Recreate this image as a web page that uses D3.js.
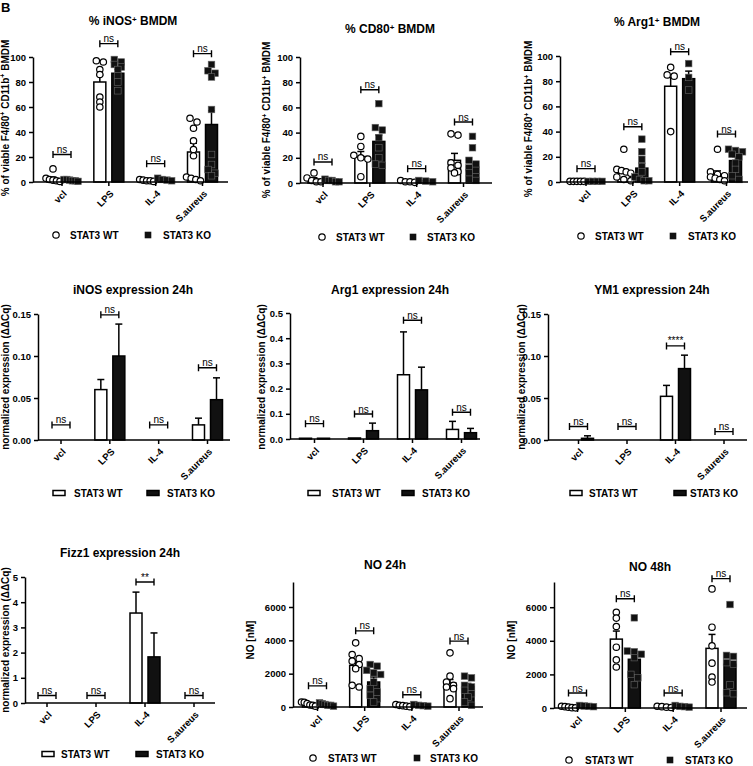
<!DOCTYPE html>
<html><head><meta charset="utf-8">
<script src="https://cdn.jsdelivr.net/npm/d3@7"></script>
<style>body{margin:0;background:#fff} svg text{font-family:"Liberation Sans",Arial,sans-serif;}</style>
</head><body><svg id="c" width="753" height="766"></svg>
<script>
const categories = ["vcl","LPS","IL-4","S.aureus"];
const seriesNames = ["STAT3 WT","STAT3 KO"];
const nsLabels = ["ns","ns","ns","ns"];
const ym1Labels = ["ns","ns","****","ns"];
const fizzLabels = ["ns","ns","**","ns"];

const pctTicks = [0,20,40,60,80,100];
const expr015Ticks = [0,0.05,0.10,0.15];
const expr05Ticks = [0,0.1,0.2,0.3,0.4,0.5];
const fizzTicks = [0,1,2,3,4,5];
const noTicks = [0,2000,4000,6000];

// % iNOS+ BMDM
const inosFacsWTMean = [2.5, 80, 1, 24];
const inosFacsWTSem = [1.5, 5.5, 0.3, 7];
const inosFacsKOMean = [1.5, 87, 2, 46];
const inosFacsKOSem = [0.4, 3, 0.5, 11];
const inosFacsWTPoints = [[10.5,3,2,1.5,1,0.5],[97,96,90,86,68,64,60],[2,1.5,1,0.5,1],[51,48,43,33,26,21,4,3,2,1]];
const inosFacsKOPoints = [[2,1.5,1,1,0.5,2],[98,96,94,92,90,85,80,73],[1,3,2,1.5],[94,89,87,84,58,22,14,10,7,5]];
const inosFacsBrackets = [22, 110.7, 14.7, 102.7];

// % CD80+ BMDM
const cd80WTMean = [3, 21, 1, 18];
const cd80WTSem = [1.2, 4, 0.3, 5.5];
const cd80KOMean = [2, 33, 1.5, 13];
const cd80KOSem = [0.5, 5, 0.3, 3.5];
const cd80WTPoints = [[8,4,2,1,1],[37,29,22,20,19,5],[2,1,1,0.5],[39,38,16,14,12,9,8]];
const cd80KOPoints = [[3,2,2,1,1],[63,44,42,36,28,20,15,14],[1,2,1.5],[37,28,18,15,12,10,8,5,3,2]];
const cd80Brackets = [16.7, 74, 11.4, 48.4];

// % Arg1+ BMDM
const arg1FacsWTMean = [0.5, 7, 76, 6];
const arg1FacsWTSem = [0.2, 3, 7, 2.8];
const arg1FacsKOMean = [0.5, 11, 82, 17];
const arg1FacsKOSem = [0.2, 4, 6, 3];
const arg1FacsWTPoints = [[0.5,0.5,0.5,0.5,0.5],[26,10,9,8,7,4,2,1],[91,85,84,40],[26,8,6,5,4,3,2,1]];
const arg1FacsKOPoints = [[0.5,0.5,0.5,0.5],[34,24,18,12,8,4,2,1,1],[94,83,73],[26,25,24,22,20,15,10,5,2]];
const arg1FacsBrackets = [10.6, 43.8, 103.4, 38];

// iNOS expression 24h
const inosExprWTMean = [0, 0.06, 0, 0.018];
const inosExprWTSem = [0, 0.012, 0, 0.008];
const inosExprKOMean = [0, 0.10, 0, 0.048];
const inosExprKOSem = [0, 0.038, 0, 0.026];
const inosExprBrackets = [0.018, 0.149, 0.018, 0.086];

// Arg1 expression 24h
const arg1ExprWTMean = [0.003, 0.004, 0.255, 0.038];
const arg1ExprWTSem = [0, 0, 0.17, 0.032];
const arg1ExprKOMean = [0.003, 0.033, 0.195, 0.025];
const arg1ExprKOSem = [0, 0.03, 0.09, 0.017];
const arg1ExprBrackets = [0.061, 0.099, 0.471, 0.106];

// YM1 expression 24h
const ym1WTMean = [0, 0, 0.052, 0];
const ym1WTSem = [0, 0, 0.013, 0];
const ym1KOMean = [0.002, 0, 0.085, 0];
const ym1KOSem = [0.003, 0, 0.016, 0];
const ym1Brackets = [0.016, 0.016, 0.112, 0.010];

// Fizz1 expression 24h
const fizzWTMean = [0, 0, 3.57, 0];
const fizzWTSem = [0, 0, 0.83, 0];
const fizzKOMean = [0, 0, 1.83, 0];
const fizzKOSem = [0, 0, 0.95, 0];
const fizzBrackets = [0.3, 0.3, 4.8, 0.3];

// NO 24h
const no24WTMean = [200, 2500, 100, 1430];
const no24WTSem = [50, 300, 25, 220];
const no24KOMean = [150, 1500, 100, 1230];
const no24KOSem = [30, 300, 20, 180];
const no24WTPoints = [[300,280,200,120,100,50],[3850,3150,2900,2750,2550,2300,1300,1200],[150,100,80,50,20],[3250,1850,1500,1300,1200,1100,500]];
const no24KOPoints = [[250,200,150,100,100,50],[2550,2450,2200,2050,1950,1500,1100,900,700,500,300],[150,100,80,50],[1850,1750,1300,1200,1000,800,600,300,100]];
const no24Brackets = [1270, 4570, 735, 3954];

// NO 48h
const no48WTMean = [50, 4100, 50, 3550];
const no48WTSem = [20, 480, 15, 830];
const no48KOMean = [100, 2900, 100, 2600];
const no48KOSem = [20, 450, 20, 600];
const no48WTPoints = [[100,80,50,20,10],[5700,5350,4850,3620,2870,2440],[100,80,50,30],[7090,4810,3700,2670,1840,1545]];
const no48KOPoints = [[150,120,100,80],[5370,3390,3350,3200,3000,2000,1800,1390],[150,100,80,50],[6160,3130,3070,2700,2620,1370,910,850]];
const no48Brackets = [891, 6500, 891, 7700];

const svg = d3.select("#c");
const BOLD = "bold";

function addParts(sel, parts, supSize){
  parts.forEach(p=>{
    if(p[1]) sel.append("tspan").attr("dy",-3.5).attr("font-size",supSize).text(p[0]);
    else sel.append("tspan").attr("dy", p[2]||0).text(p[0]);
  });
}

function swarm(vals, cx, y){
  const order = vals.map((v,i)=>({v,i,py:y(v)})).sort((a,b)=>a.py-b.py);
  const rows=[]; let cur=null;
  order.forEach(o=>{
    if(cur && o.py - cur[0].py < 4.5) cur.push(o); else { cur=[o]; rows.push(cur); }
  });
  const out=[];
  rows.forEach(r=>{
    const n=r.length; const step = n>1 ? Math.min(7, 14/(n-1)) : 0;
    r.forEach((o,k)=>{ out.push([cx + (k-(n-1)/2)*step, o.py]); });
  });
  return out;
}

function panel(c){
  const g = svg.append("g");
  const y = d3.scaleLinear().domain([0, c.max]).range([c.y0, c.y1]);
  const x = d3.scalePoint().domain(categories).range([c.c0, c.c3]);
  const off = 9, bw = 12;

  const series = [
    {mean:c.wtMean, sem:c.wtSem, dx:-off, fill:"#fff"},
    {mean:c.koMean, sem:c.koSem, dx:off, fill:"#111"}
  ];
  series.forEach(s=>{
    categories.forEach((cat,i)=>{
      const cx = x(cat)+s.dx;
      const v = s.mean[i];
      if(v>0){
        g.append("rect").attr("x",cx-bw/2).attr("width",bw)
          .attr("y",y(v)).attr("height",Math.max(0.01,c.y0-y(v)))
          .attr("fill",s.fill).attr("stroke","#000").attr("stroke-width",1.5);
      }
      if(s.sem[i]>0){
        const yt=y(v+s.sem[i]);
        g.append("line").attr("x1",cx).attr("x2",cx).attr("y1",y(v)).attr("y2",yt).attr("stroke","#000").attr("stroke-width",1.5);
        g.append("line").attr("x1",cx-3.5).attr("x2",cx+3.5).attr("y1",yt).attr("y2",yt).attr("stroke","#000").attr("stroke-width",1.5);
      }
    });
  });
  if(c.wtPts){
    categories.forEach((cat,i)=>{
      swarm(c.wtPts[i], x(cat)-off, y).forEach(p=>{
        g.append("circle").attr("cx",p[0]).attr("cy",p[1]).attr("r",3.2)
          .attr("fill","#fff").attr("stroke","#000").attr("stroke-width",1.2);
      });
      swarm(c.koPts[i], x(cat)+off, y).forEach(p=>{
        g.append("rect").attr("x",p[0]-3.3).attr("y",p[1]-3.3).attr("width",6.6).attr("height",6.6)
          .attr("fill","#111").attr("stroke","#666").attr("stroke-width",0.6);
      });
    });
  }
  const ya = g.append("g").attr("transform",`translate(${c.ax0},0)`)
    .call(d3.axisLeft(y).tickValues(c.ticks).tickFormat(c.fmt).tickSize(4).tickPadding(3).tickSizeOuter(0));
  ya.select(".domain").attr("stroke-width",1.5);
  ya.selectAll(".tick line").attr("stroke-width",1.5);
  ya.selectAll("text").attr("font-size",9.5).attr("font-weight",BOLD).attr("fill","#000");
  g.append("line").attr("x1",c.ax0).attr("x2",c.ax1).attr("y1",c.y0).attr("y2",c.y0).attr("stroke","#000").attr("stroke-width",1.5);
  categories.forEach(cat=>{
    g.append("line").attr("x1",x(cat)).attr("x2",x(cat)).attr("y1",c.y0).attr("y2",c.y0+4).attr("stroke","#000").attr("stroke-width",1.5);
    g.append("text").attr("transform",`translate(${x(cat)+3},${c.y0+10}) rotate(-45)`)
      .attr("text-anchor","end").attr("dy","0.35em").attr("font-size",9.5).attr("font-weight",BOLD).text(cat);
  });
  categories.forEach((cat,i)=>{
    const by=y(c.br[i]); const xa=x(cat)-off, xb=x(cat)+off;
    g.append("path").attr("d",`M${xa},${by-3.5}V${by+3.5}M${xa},${by}H${xb}M${xb},${by-3.5}V${by+3.5}`)
      .attr("stroke","#000").attr("stroke-width",1.4).attr("fill","none");
    g.append("text").attr("x",x(cat)).attr("y",by-1.5).attr("text-anchor","middle").attr("font-size",10).text(c.labels[i]);
  });
  const t = g.append("text").attr("x",c.tx).attr("y",c.ty).attr("dy","0.35em").attr("text-anchor","middle")
    .attr("font-size",12).attr("font-weight",BOLD);
  addParts(t, c.title, 8);
  const yl = g.append("text").attr("transform",`translate(${c.lx},${c.ly}) rotate(-90)`).attr("dy","0.35em")
    .attr("text-anchor","middle").attr("font-size",10).attr("font-weight",BOLD);
  addParts(yl, c.ylab, 7);
  const L=c.leg;
  if(c.wtPts){
    g.append("circle").attr("cx",L[0]).attr("cy",c.legY).attr("r",3.2).attr("fill","#fff").attr("stroke","#000").attr("stroke-width",1.2);
    g.append("rect").attr("x",L[2]-3.3).attr("y",c.legY-3.3).attr("width",6.6).attr("height",6.6).attr("fill","#111");
  } else {
    g.append("rect").attr("x",L[0]-6).attr("y",c.legY-2.5).attr("width",12).attr("height",5).attr("fill","#fff").attr("stroke","#000").attr("stroke-width",1.5);
    g.append("rect").attr("x",L[2]-6).attr("y",c.legY-2.5).attr("width",12).attr("height",5).attr("fill","#111").attr("stroke","#000").attr("stroke-width",1.5);
  }
  g.append("text").attr("x",L[1]).attr("y",c.legY).attr("dy","0.35em").attr("font-size",10).attr("font-weight",BOLD).text(seriesNames[0]);
  g.append("text").attr("x",L[3]).attr("y",c.legY).attr("dy","0.35em").attr("font-size",10).attr("font-weight",BOLD).text(seriesNames[1]);
}

const pctLab = [["% of viable F4/80",0],["+",1],[" CD11b",0,3.5],["+",1],[" BMDM",0,3.5]];
const exprLab = [["normalized expression (ΔΔCq)",0]];
const noLab = [["NO [nM]",0]];
const f0 = d3.format("d"), f2 = d3.format(".2f"), f1 = d3.format(".1f");

panel({wtMean:inosFacsWTMean,wtSem:inosFacsWTSem,koMean:inosFacsKOMean,koSem:inosFacsKOSem,wtPts:inosFacsWTPoints,koPts:inosFacsKOPoints,br:inosFacsBrackets,labels:nsLabels,
  max:100,ticks:pctTicks,fmt:f0,ax0:33,ax1:228,y0:182,y1:57,c0:62,c3:202.5,
  title:[["% iNOS",0],["+",1],[" BMDM",0,3.5]],tx:133,ty:25,ylab:pctLab,lx:8.5,ly:118,legY:235,leg:[56,70,148,163]});
panel({wtMean:cd80WTMean,wtSem:cd80WTSem,koMean:cd80KOMean,koSem:cd80KOSem,wtPts:cd80WTPoints,koPts:cd80KOPoints,br:cd80Brackets,labels:nsLabels,
  max:100,ticks:pctTicks,fmt:f0,ax0:300,ax1:492,y0:183,y1:57,c0:323,c3:463.5,
  title:[["% CD80",0],["+",1],[" BMDM",0,3.5]],tx:390,ty:33,ylab:pctLab,lx:270,ly:120,legY:237,leg:[322,336,413,427]});
panel({wtMean:arg1FacsWTMean,wtSem:arg1FacsWTSem,koMean:arg1FacsKOMean,koSem:arg1FacsKOSem,wtPts:arg1FacsWTPoints,koPts:arg1FacsKOPoints,br:arg1FacsBrackets,labels:nsLabels,
  max:100,ticks:pctTicks,fmt:f0,ax0:560,ax1:748,y0:182,y1:56,c0:586,c3:726.5,
  title:[["% Arg1",0],["+",1],[" BMDM",0,3.5]],tx:657,ty:26,ylab:pctLab,lx:532,ly:119,legY:236,leg:[581,595,673,688]});

panel({wtMean:inosExprWTMean,wtSem:inosExprWTSem,koMean:inosExprKOMean,koSem:inosExprKOSem,br:inosExprBrackets,labels:nsLabels,
  max:0.15,ticks:expr015Ticks,fmt:f2,ax0:38,ax1:230,y0:440,y1:314,c0:61,c3:207.5,
  title:[["iNOS expression 24h",0]],tx:133,ty:294,ylab:exprLab,lx:8.5,ly:377,legY:493,leg:[59,74,153,167]});
panel({wtMean:arg1ExprWTMean,wtSem:arg1ExprWTSem,koMean:arg1ExprKOMean,koSem:arg1ExprKOSem,br:arg1ExprBrackets,labels:nsLabels,
  max:0.5,ticks:expr05Ticks,fmt:f1,ax0:290,ax1:480,y0:439,y1:313,c0:314.5,c3:461.5,
  title:[["Arg1 expression 24h",0]],tx:390,ty:294,ylab:exprLab,lx:265,ly:377,legY:493,leg:[314,332,408,422]});
panel({wtMean:ym1WTMean,wtSem:ym1WTSem,koMean:ym1KOMean,koSem:ym1KOSem,br:ym1Brackets,labels:ym1Labels,
  max:0.15,ticks:expr015Ticks,fmt:f2,ax0:548,ax1:747,y0:440,y1:314,c0:578.5,c3:724,
  title:[["YM1 expression 24h",0]],tx:652,ty:294,ylab:exprLab,lx:525,ly:377,legY:493,leg:[576,589,680,690]});

panel({wtMean:fizzWTMean,wtSem:fizzWTSem,koMean:fizzKOMean,koSem:fizzKOSem,br:fizzBrackets,labels:fizzLabels,
  max:5,ticks:fizzTicks,fmt:f0,ax0:25,ax1:215,y0:703,y1:577,c0:47,c3:194,
  title:[["Fizz1 expression 24h",0]],tx:120,ty:557,ylab:exprLab,lx:8.5,ly:640,legY:754,leg:[48,61,142,156]});
panel({wtMean:no24WTMean,wtSem:no24WTSem,koMean:no24KOMean,koSem:no24KOSem,wtPts:no24WTPoints,koPts:no24KOPoints,br:no24Brackets,labels:nsLabels,
  max:7500,ticks:noTicks,fmt:f0,ax0:293,ax1:483,y0:707,y1:582,c0:317.5,c3:459,
  title:[["NO 24h",0]],tx:385,ty:569,ylab:noLab,lx:254,ly:640,legY:758,leg:[313,328,417,430]});
panel({wtMean:no48WTMean,wtSem:no48WTSem,koMean:no48KOMean,koSem:no48KOSem,wtPts:no48WTPoints,koPts:no48KOPoints,br:no48Brackets,labels:nsLabels,
  max:7500,ticks:noTicks,fmt:f0,ax0:554,ax1:747,y0:708,y1:582,c0:577.5,c3:721,
  title:[["NO 48h",0]],tx:650,ty:571,ylab:noLab,lx:515,ly:640,legY:760,leg:[569,585,670,685]});

svg.append("text").attr("x",1).attr("y",12).attr("font-size",13).attr("font-weight","bold").text("B");
</script></body></html>
